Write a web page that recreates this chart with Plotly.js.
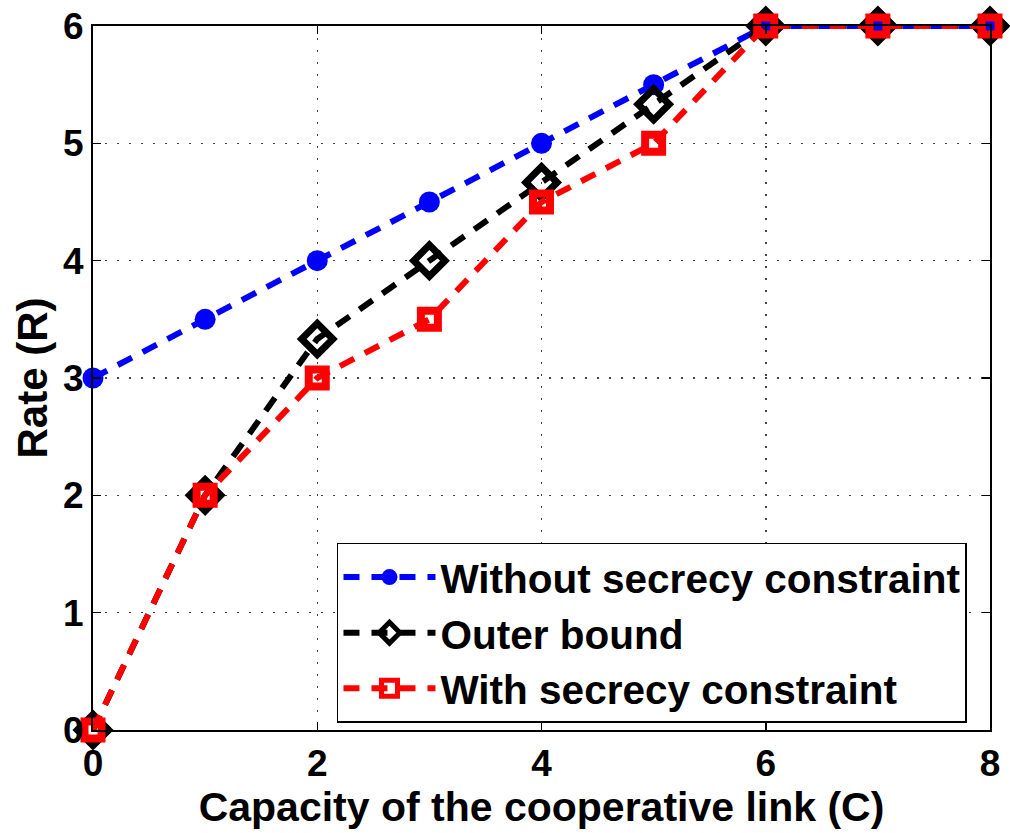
<!DOCTYPE html>
<html><head><meta charset="utf-8">
<script src="https://cdn.plot.ly/plotly-3.0.1.min.js"></script>
<style>html,body{margin:0;padding:0;background:#fff}</style>
</head><body>
<div id="chart" style="width:1010px;height:833px"></div>
<script>
const capacity = [0, 1, 2, 3, 4, 5, 6, 7, 8];
const rateWithout = [3, 3.5, 4, 4.5, 5, 5.5, 6, 6, 6];
const rateOuter = [0, 2, 3.333, 4, 4.667, 5.333, 6, 6, 6];
const rateWith = [0, 2, 3, 3.5, 4.5, 5, 6, 6, 6];
const names = ["Without secrecy constraint", "Outer bound", "With secrecy constraint"];
const xTicks = [0, 2, 4, 6, 8];
const yTicks = [0, 1, 2, 3, 4, 5, 6];

const F = "Liberation Sans, Arial, Helvetica, sans-serif";
const dash = "16px,12px";
const traces = [
  {x: capacity, y: rateWithout, name: names[0], mode: "lines+markers", cliponaxis: false,
   line: {color: "#0000ff", width: 6, dash: dash},
   marker: {symbol: "circle", size: 21, color: "#0000ff"}},
  {x: capacity, y: rateOuter, name: names[1], mode: "lines+markers", cliponaxis: false,
   line: {color: "#000000", width: 6, dash: dash},
   marker: {symbol: "diamond-open", size: 24, color: "#000000", line: {width: 7, color: "#000000"}}},
  {x: capacity, y: rateWith, name: names[2], mode: "lines+markers", cliponaxis: false,
   line: {color: "#ff0000", width: 6, dash: dash},
   marker: {symbol: "square-open", size: 17, color: "#ff0000", line: {width: 8, color: "#ff0000"}}}
];
const axisCommon = {
  showline: true, linecolor: "#000", linewidth: 2, mirror: "ticks",
  ticks: "inside", ticklen: 8, tickwidth: 1.5, tickcolor: "#000",
  showgrid: true, gridcolor: "#444", griddash: "2px,10px", gridwidth: 1.5,
  zeroline: false, tickfont: {family: F, size: 37, color: "#000", weight: "bold"}
};
const layout = {
  width: 1010, height: 833,
  margin: {l: 93, r: 20, t: 26, b: 103},
  paper_bgcolor: "#fff", plot_bgcolor: "#fff",
  font: {family: F, color: "#000"},
  xaxis: Object.assign({}, axisCommon, {range: [0, 8], tickvals: xTicks, ticktext: xTicks.map(String),
    title: {text: "<b>Capacity of the cooperative link (C)</b>", font: {family: F, size: 41}, standoff: 0}}),
  yaxis: Object.assign({}, axisCommon, {range: [0, 6], tickvals: yTicks, ticktext: yTicks.map(String),
    title: {text: "<b>Rate (R)</b>", font: {family: F, size: 42}, standoff: 2}}),
  showlegend: true,
  legend: {x: 0.272, y: 0.266, xanchor: "left", yanchor: "top",
    bgcolor: "#fff", bordercolor: "#000", borderwidth: 1.5,
    font: {family: F, size: 40.5, color: "#000", weight: "bold"},
    tracegroupgap: 0, itemwidth: 92}
};
Plotly.newPlot("chart", traces, layout, {displayModeBar: false, staticPlot: true});
</script>
</body></html>
